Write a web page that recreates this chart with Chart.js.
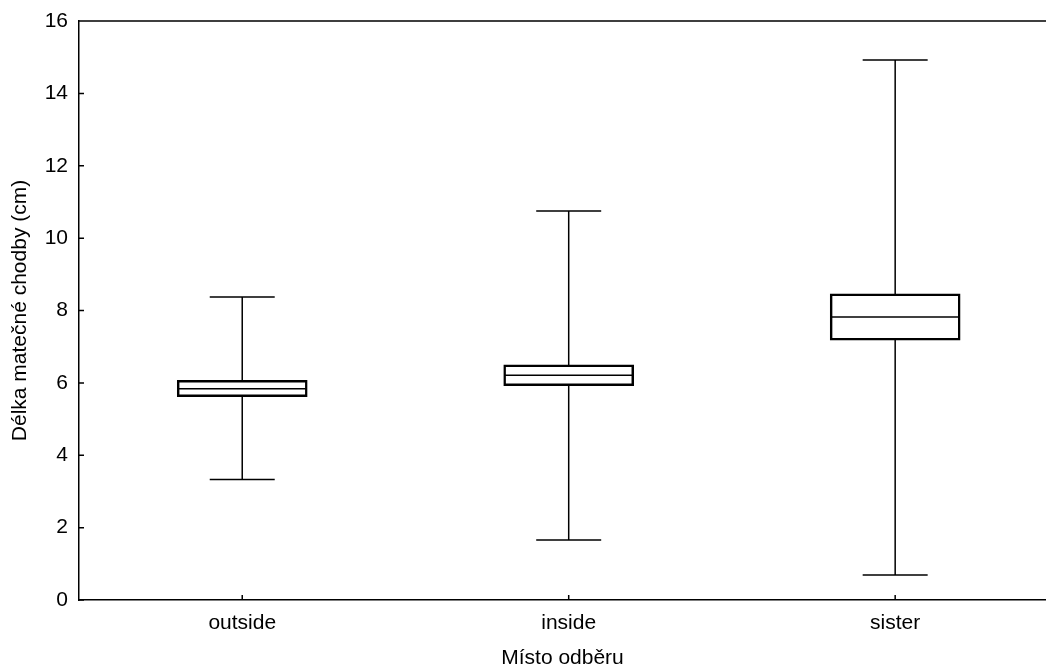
<!DOCTYPE html>
<html>
<head>
<meta charset="utf-8">
<script src="https://cdn.jsdelivr.net/npm/chart.js@4.4.0/dist/chart.umd.min.js"></script>
<style>
html,body{margin:0;padding:0;background:#fff;overflow:hidden;}
canvas{display:block;}
</style>
</head>
<body>
<canvas id="c" width="1046" height="669"></canvas>
<script>
const categories = ['outside', 'inside', 'sister'];
const whiskerLow = [3.33, 1.66, 0.69];
const q1 = [5.62, 5.92, 7.18];
const median = [5.84, 6.21, 7.82];
const q3 = [6.07, 6.50, 8.46];
const whiskerHigh = [8.37, 10.75, 14.92];
const yTickValues = [0, 2, 4, 6, 8, 10, 12, 14, 16];

const FONT = '"Liberation Sans", Arial, sans-serif';
Chart.defaults.font.family = FONT;
Chart.defaults.color = '#000';

const boxPlugin = {
  id: 'boxPlugin',
  beforeDatasetsDraw(chart) {
    const ctx = chart.ctx, xs = chart.scales.x, ys = chart.scales.y;
    ctx.save();
    ctx.strokeStyle = '#000';
    ctx.lineWidth = 1.5;
    categories.forEach((c, i) => {
      const x = xs.getPixelForValue(i);
      const yl = ys.getPixelForValue(whiskerLow[i]);
      const yh = ys.getPixelForValue(whiskerHigh[i]);
      ctx.beginPath();
      ctx.moveTo(x, yl); ctx.lineTo(x, yh);
      ctx.moveTo(x - 32.5, yl); ctx.lineTo(x + 32.5, yl);
      ctx.moveTo(x - 32.5, yh); ctx.lineTo(x + 32.5, yh);
      ctx.stroke();
    });
    ctx.restore();
  },
  afterDatasetsDraw(chart) {
    const ctx = chart.ctx, xs = chart.scales.x, ys = chart.scales.y;
    ctx.save();
    ctx.strokeStyle = '#000';
    ctx.lineWidth = 1.5;
    categories.forEach((c, i) => {
      const x = xs.getPixelForValue(i);
      const ym = ys.getPixelForValue(median[i]);
      ctx.beginPath();
      ctx.moveTo(x - 64, ym); ctx.lineTo(x + 64, ym);
      ctx.stroke();
    });
    ctx.restore();
  },
  afterDraw(chart) {
    const ctx = chart.ctx, a = chart.chartArea, xs = chart.scales.x, ys = chart.scales.y;
    ctx.save();
    ctx.strokeStyle = '#000';
    ctx.lineWidth = 1.5;
    ctx.beginPath();
    ctx.moveTo(a.left, a.top); ctx.lineTo(chart.width, a.top);
    yTickValues.forEach(v => {
      const y = ys.getPixelForValue(v);
      ctx.moveTo(a.left, y); ctx.lineTo(a.left + 5, y);
    });
    categories.forEach((c, i) => {
      const x = xs.getPixelForValue(i);
      ctx.moveTo(x, a.bottom); ctx.lineTo(x, a.bottom - 5);
    });
    ctx.stroke();
    ctx.restore();
  }
};

new Chart(document.getElementById('c'), {
  type: 'bar',
  data: {
    datasets: [{
      data: categories.map((c, i) => ({ x: i, y: [q1[i], q3[i]] })),
      backgroundColor: '#fff',
      borderColor: '#000',
      borderWidth: 2.5,
      borderSkipped: false,
      barThickness: 130
    }]
  },
  options: {
    responsive: false,
    animation: false,
    layout: { padding: { top: 21, right: 0, left: 0, bottom: 0 } },
    plugins: { legend: { display: false }, tooltip: { enabled: false } },
    scales: {
      x: {
        type: 'linear',
        offset: false,
        min: -0.5,
        max: 2.462,
        afterBuildTicks: s => { s.ticks = categories.map((c, i) => ({ value: i })); },
        ticks: { callback: v => categories[v], font: { size: 21 }, color: '#000', padding: 11, maxRotation: 0, autoSkip: false },
        grid: { display: false, drawTicks: false, offset: false },
        border: { display: true, color: '#000', width: 1.5 },
        title: { display: true, text: 'Místo odběru', font: { size: 21, lineHeight: 1.0 }, color: '#000', padding: { top: 0, bottom: 0 } },
        afterFit: s => { s.height = 69; s.paddingLeft = 0; s.paddingRight = 0; }
      },
      y: {
        min: 0,
        max: 16,
        afterBuildTicks: s => { s.ticks = yTickValues.map(v => ({ value: v })); },
        ticks: { font: { size: 21 }, color: '#000', padding: 11 },
        grid: { display: false, drawTicks: false },
        border: { display: true, color: '#000', width: 1.5 },
        title: { display: true, text: 'Délka matečné chodby (cm)', font: { size: 21 }, color: '#000', padding: { top: 8, bottom: 0 } },
        afterFit: s => { s.width = 79; s.paddingTop = 0; s.paddingBottom = 0; }
      }
    }
  },
  plugins: [boxPlugin]
});
</script>
</body>
</html>
